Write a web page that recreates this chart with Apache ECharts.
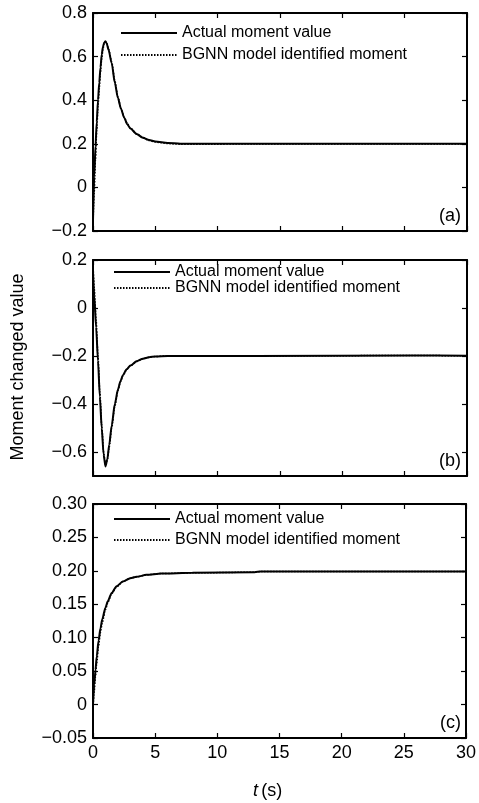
<!DOCTYPE html>
<html>
<head>
<meta charset="utf-8">
<script src="https://cdn.jsdelivr.net/npm/echarts@6/dist/echarts.min.js"></script>
<style>
  html, body { margin: 0; padding: 0; background: #fff; }
  #main { width: 479px; height: 803px; }
</style>
</head>
<body>
<div id="main"></div>
<script>
// names of the two curves
const actualName = 'Actual moment value';
const bgnnName = 'BGNN model identified moment';

// panel (a): time (s) and moment values
const tA = [0, 0.1, 0.2, 0.3, 0.4, 0.5, 0.6, 0.7, 0.8, 0.9, 1.0, 1.1, 1.25, 1.5, 1.75, 2.0, 2.25, 2.5, 2.75, 3.0, 3.5, 4.0, 4.5, 5.0, 6.0, 7.0, 8.0, 13.0, 30];
const actualA = [-0.15, 0.05, 0.19, 0.30, 0.40, 0.48, 0.55, 0.61, 0.645, 0.665, 0.67, 0.66, 0.63, 0.57, 0.48, 0.41, 0.36, 0.32, 0.29, 0.27, 0.245, 0.228, 0.217, 0.211, 0.204, 0.2, 0.2, 0.2, 0.2];
const bgnnA = [-0.17, -0.02, 0.13, 0.26, 0.37, 0.45, 0.53, 0.59, 0.635, 0.66, 0.668, 0.662, 0.635, 0.575, 0.49, 0.415, 0.362, 0.322, 0.292, 0.272, 0.246, 0.229, 0.215, 0.208, 0.201, 0.198, 0.198, 0.199, 0.199];

// panel (b)
const tB = [0, 0.1, 0.25, 0.4, 0.55, 0.7, 0.85, 1.0, 1.15, 1.3, 1.5, 1.75, 2.0, 2.2, 2.4, 2.7, 3.0, 3.5, 4.0, 4.5, 5.0, 6.0, 8.0, 12.99, 13.0, 25.5, 30];
const actualB = [0.15, 0.05, -0.08, -0.22, -0.37, -0.5, -0.61, -0.66, -0.63, -0.57, -0.49, -0.40, -0.34, -0.305, -0.28, -0.255, -0.24, -0.222, -0.211, -0.205, -0.202, -0.2, -0.2, -0.2, -0.198, -0.198, -0.199];
const bgnnB = [0.19, 0.08, -0.05, -0.20, -0.35, -0.49, -0.60, -0.655, -0.635, -0.58, -0.50, -0.41, -0.345, -0.308, -0.282, -0.256, -0.241, -0.223, -0.212, -0.205, -0.202, -0.2, -0.2, -0.2, -0.198, -0.198, -0.199];

// panel (c)
const tC = [0, 0.1, 0.2, 0.3, 0.45, 0.6, 0.75, 1.0, 1.2, 1.5, 1.9, 2.4, 3.0, 3.5, 4.3, 5.5, 8.0, 13.0, 13.5, 30];
const actualC = [0.0, 0.03, 0.052, 0.072, 0.096, 0.114, 0.128, 0.145, 0.155, 0.167, 0.177, 0.184, 0.189, 0.191, 0.194, 0.196, 0.197, 0.198, 0.199, 0.199];
const bgnnC = [-0.005, 0.02, 0.042, 0.062, 0.088, 0.108, 0.123, 0.142, 0.153, 0.166, 0.176, 0.184, 0.189, 0.191, 0.194, 0.196, 0.197, 0.198, 0.199, 0.199];

// tick labels
const xTicks = [0, 5, 10, 15, 20, 25, 30];
const yTicksB = [-0.6, -0.4, -0.2, 0, 0.2];
const panelTags = ['(a)', '(b)', '(c)'];

const font = 'Liberation Sans, Arial, sans-serif';

function pairs(t, v) {
  return t.map((x, i) => [x, v[i]]);
}

function fmt(digits) {
  return function (v) {
    if (Math.abs(v) < 1e-9) return '0';
    return (v < 0 ? '\u2212' : '') + Math.abs(v).toFixed(digits);
  };
}

// plot boxes
const boxes = [
  { top: 13, height: 218 },
  { top: 260, height: 216 },
  { top: 504, height: 234 }
];

const grid = boxes.map(b => ({ left: 93, right: 12, top: b.top, height: b.height }));

const lineAxis = { show: true, onZero: false, lineStyle: { color: '#000', width: 2 } };
const tick = { show: true, inside: true, length: 5, lineStyle: { color: '#000', width: 1.2 } };

const xAxis = [];
const yAxis = [];
const yRange = [
  { min: -0.2, max: 0.8, interval: 0.2, digits: 1 },
  { min: -0.7, max: 0.2, custom: yTicksB, digits: 1 },
  { min: -0.05, max: 0.3, interval: 0.05, digits: 2 }
];

for (let i = 0; i < 3; i++) {
  // bottom + top x axes
  xAxis.push({
    type: 'value', gridIndex: i, position: 'bottom', min: 0, max: 30, interval: 5,
    axisLine: lineAxis, axisTick: tick, splitLine: { show: false },
    axisLabel: { show: i === 2, color: '#000', fontSize: 18, fontFamily: font, margin: 6 }
  });
  xAxis.push({
    type: 'value', gridIndex: i, position: 'top', min: 0, max: 30, interval: 5,
    axisLine: lineAxis, axisTick: tick, splitLine: { show: false },
    axisLabel: { show: false }
  });
  const r = yRange[i];
  const base = { type: 'value', gridIndex: i, min: r.min, max: r.max, splitLine: { show: false }, axisLine: lineAxis };
  if (r.custom) {
    yAxis.push(Object.assign({}, base, {
      position: 'left',
      axisTick: Object.assign({}, tick, { customValues: r.custom }),
      axisLabel: { color: '#000', fontSize: 18, fontFamily: font, margin: 6, customValues: r.custom, formatter: fmt(r.digits) }
    }));
    yAxis.push(Object.assign({}, base, {
      position: 'right',
      axisTick: Object.assign({}, tick, { customValues: r.custom }),
      axisLabel: { show: false }
    }));
  } else {
    yAxis.push(Object.assign({}, base, {
      position: 'left', interval: r.interval, axisTick: tick,
      axisLabel: { color: '#000', fontSize: 18, fontFamily: font, margin: 6, formatter: fmt(r.digits) }
    }));
    yAxis.push(Object.assign({}, base, {
      position: 'right', interval: r.interval, axisTick: tick,
      axisLabel: { show: false }
    }));
  }
}

const panelData = [
  [pairs(tA, actualA), pairs(tA, bgnnA)],
  [pairs(tB, actualB), pairs(tB, bgnnB)],
  [pairs(tC, actualC), pairs(tC, bgnnC)]
];

const series = [];
panelData.forEach((d, i) => {
  series.push({
    name: actualName, type: 'line', xAxisIndex: i * 2, yAxisIndex: i * 2,
    data: d[0], symbol: 'none', smooth: 0.25, smoothMonotone: 'x', color: '#000',
    lineStyle: { color: '#000', width: 2, type: 'solid' }
  });
  series.push({
    name: bgnnName, type: 'line', xAxisIndex: i * 2, yAxisIndex: i * 2,
    data: d[1], symbol: 'none', smooth: 0.25, smoothMonotone: 'x', color: '#000',
    lineStyle: { color: '#000', width: 1.5, type: [1.5, 1.5] }
  });
});

// one legend per panel
const legendPos = [
  { left: 120, top: 25, itemGap: 6 },
  { left: 113, top: 264, itemGap: 0 },
  { left: 113, top: 511, itemGap: 5 }
];
const legend = legendPos.map(p => ({
  orient: 'vertical', left: p.left, top: p.top, itemGap: p.itemGap,
  itemWidth: 56, itemHeight: 14, padding: 0,
  data: [actualName, bgnnName],
  selectedMode: false,
  itemStyle: { opacity: 0 },
  textStyle: { color: '#000', fontSize: 16, fontFamily: font, lineHeight: 16 }
}));

const graphic = [];
panelTags.forEach((tag, i) => {
  graphic.push({
    type: 'text', right: 18, top: boxes[i].top + boxes[i].height - 24,
    style: { text: tag, fill: '#000', font: '18px ' + font }
  });
});
graphic.push({
  type: 'text', rotation: Math.PI / 2,
  style: { text: 'Moment changed value', fill: '#000', font: '18px ' + font, align: 'center', verticalAlign: 'middle' },
  x: 18, y: 367
});
graphic.push({
  type: 'text', left: 253, top: 782,
  style: {
    rich: { i: { fontStyle: 'italic', fontSize: 18, fontFamily: font }, n: { fontSize: 18, fontFamily: font } },
    text: '{i|t} {n|(s)}', fill: '#000'
  }
});

const chart = echarts.init(document.getElementById('main'));
chart.setOption({
  animation: false,
  backgroundColor: '#fff',
  grid: grid,
  xAxis: xAxis,
  yAxis: yAxis,
  legend: legend,
  series: series,
  graphic: graphic
});
</script>
</body>
</html>
